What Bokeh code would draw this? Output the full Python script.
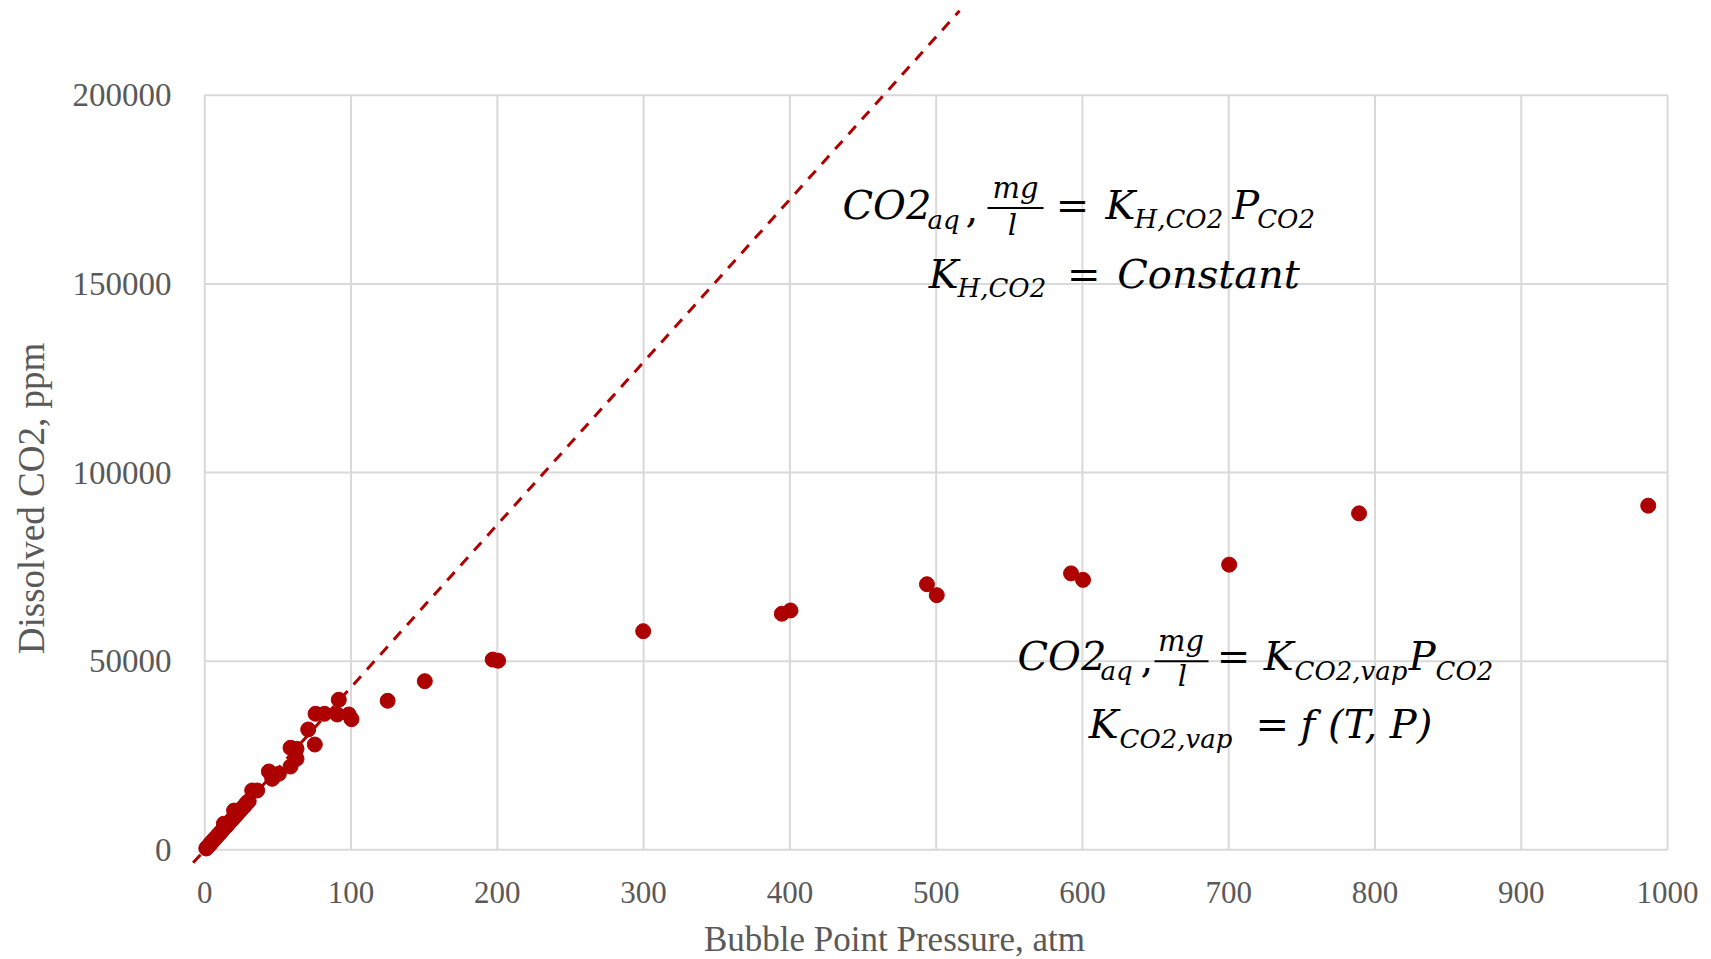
import math
from bokeh.plotting import figure
from bokeh.models import Range1d, Label
from bokeh.embed import file_html
from bokeh.resources import INLINE

# ---------------- data ----------------
pressure = [1, 1.5, 2, 3, 3.5, 4, 5, 6, 6.5, 7, 8, 9, 10, 11, 12, 13, 14, 15, 16, 17,
            18, 19, 20, 21, 22, 23, 24, 25, 26, 27, 28, 29, 30, 32.4, 35.8,
            43.8, 46.1, 50.6, 58.6, 58.6, 62.7, 62.7, 70.7, 75.2, 75.7, 81.8,
            90.5, 91.6, 98.4, 100.3, 125, 150.4, 196.8, 200.5, 299.7, 394.5, 400.4,
            493.7, 500.4, 592.2, 600.4, 700.3, 789.1, 986.8]
dissolved_co2 = [350, 600, 820, 1250, 1480, 1700, 2100, 2600, 2750, 3000, 3450, 3900, 4300, 4650,
                 5200, 6900, 6050, 6400, 6950, 7300, 7800, 8100, 10400, 9000, 9500, 9900, 10300,
                 10800, 11200, 11600, 12100, 12500, 12900, 15720, 15720,
                 20760, 18820, 20150, 22080, 27040, 26770, 24120, 31890, 27910, 36050, 36050,
                 35870, 39770, 35870, 34620, 39500, 44700, 50420, 50130, 57950, 62570, 63440,
                 70390, 67500, 73270, 71550, 75580, 89180, 91220]

trend_x = [-8, 516]
trend_y = [-3450, 222400]

x_ticks = [0, 100, 200, 300, 400, 500, 600, 700, 800, 900, 1000]
y_ticks = [0, 50000, 100000, 150000, 200000]

x_title = "Bubble Point Pressure, atm"
y_title = "Dissolved CO2, ppm"

# ---------------- layout ----------------
W, H = 1711, 959
X0, X1 = -139.67, 1030.05
Y0, Y1 = -29078.0, 225124.0
SX = W / (X1 - X0)          # px per x unit
SY = H / (Y1 - Y0)          # px per y unit


def fx(px):
    """page pixel column -> data x"""
    return X0 + px / SX


def fy(py):
    """page pixel row -> data y"""
    return Y1 - py / SY


p = figure(width=W, height=H, x_range=Range1d(X0, X1), y_range=Range1d(Y0, Y1),
           output_backend="svg", toolbar_location=None,
           x_axis_location=None, y_axis_location=None,
           min_border=0, min_border_left=0, min_border_right=0,
           min_border_top=0, min_border_bottom=0)
p.outline_line_color = None
p.grid.visible = False
p.background_fill_color = "white"
p.border_fill_color = "white"

GRID = "#d9d9d9"
p.segment(x0=x_ticks, y0=[y_ticks[0]] * len(x_ticks), x1=x_ticks, y1=[y_ticks[-1]] * len(x_ticks),
          line_color=GRID, line_width=2)
p.segment(x0=[x_ticks[0]] * len(y_ticks), y0=y_ticks, x1=[x_ticks[-1]] * len(y_ticks), y1=y_ticks,
          line_color=GRID, line_width=2)

# trend line
p.line(trend_x, trend_y, line_color="#b00000", line_width=3, line_dash="11 9")

# data points
p.scatter(pressure, dissolved_co2, size=15, fill_color="#ad0000", line_color="#ad0000")

TICK_COLOR = "#595959"
AX_FONT = "Liberation Serif"

# tick labels (centred on their gridlines)
for t in x_ticks:
    p.add_layout(Label(x=t, y=fy(892), text=str(t), text_font=AX_FONT, text_font_size="31px",
                       text_color=TICK_COLOR, text_align="center", text_baseline="middle"))
for t in y_ticks:
    p.add_layout(Label(x=fx(171), y=t, text=str(t), text_font=AX_FONT,
                       text_font_size="33px", text_color=TICK_COLOR, text_align="right",
                       text_baseline="middle"))

# axis titles
p.add_layout(Label(x=fx(894), y=fy(939), text=x_title, text_font=AX_FONT,
                   text_font_size="35px", text_color=TICK_COLOR, text_align="center",
                   text_baseline="middle"))
p.add_layout(Label(x=fx(31), y=fy(498), text=y_title, text_font=AX_FONT,
                   text_font_size="37px", text_color=TICK_COLOR, text_align="center",
                   text_baseline="middle", angle=math.pi / 2))

# equations
MAIN, SUB, FRAC = 40, 26, 29
EQ_FONT = "DejaVu Serif"
MID = 0.36   # baseline lies this many ems below the text middle


def piece(text, px, base_py, size, align="left", style="italic"):
    p.add_layout(Label(x=fx(px), y=fy(base_py - MID * size), text=text, text_font=EQ_FONT,
                       text_font_size=f"{size}px", text_font_style=style,
                       text_color="black", text_align=align, text_baseline="middle"))


def bar(px0, px1, py):
    p.segment(x0=[fx(px0)], y0=[fy(py)], x1=[fx(px1)], y1=[fy(py)], line_color="black", line_width=2)


# equation 1
piece("CO2", 842, 219.3, MAIN)
piece("aq", 927, 229, SUB)
piece(",", 965, 221, MAIN, style="normal")
piece("mg", 1015, 198, FRAC, align="center")
bar(987, 1043, 207.5)
piece("l", 1012, 235, FRAC, align="center")
piece("=", 1072, 219.3, MAIN, align="center", style="normal")
piece("K", 1105, 219.3, MAIN)
piece("H,CO2", 1134, 228.3, SUB)
piece("P", 1231.7, 219.3, MAIN)
piece("CO2", 1256.7, 228.3, SUB)
piece("K", 928.3, 288.3, MAIN)
piece("H,CO2", 957, 297.3, SUB)
piece("=", 1083.3, 288.3, MAIN, align="center", style="normal")
piece("Constant", 1116.7, 288.3, MAIN)

# equation 2
piece("CO2", 1017, 670, MAIN)
piece("aq", 1100, 680, SUB)
piece(",", 1140, 671, MAIN, style="normal")
piece("mg", 1180.5, 650.5, FRAC, align="center")
bar(1154, 1208, 660.7)
piece("l", 1182, 686, FRAC, align="center")
piece("=", 1233, 670, MAIN, align="center", style="normal")
piece("K", 1263.3, 670, MAIN)
piece("CO2,vap", 1294, 680, SUB)
piece("P", 1408.3, 670, MAIN)
piece("CO2", 1435, 680, SUB)
piece("K", 1088.3, 738.3, MAIN)
piece("CO2,vap", 1119, 748.3, SUB)
piece("=", 1271.7, 738.3, MAIN, align="center", style="normal")
piece("f (T, P)", 1300, 738.3, MAIN)

open("out.html", "w").write(file_html(p, INLINE))
